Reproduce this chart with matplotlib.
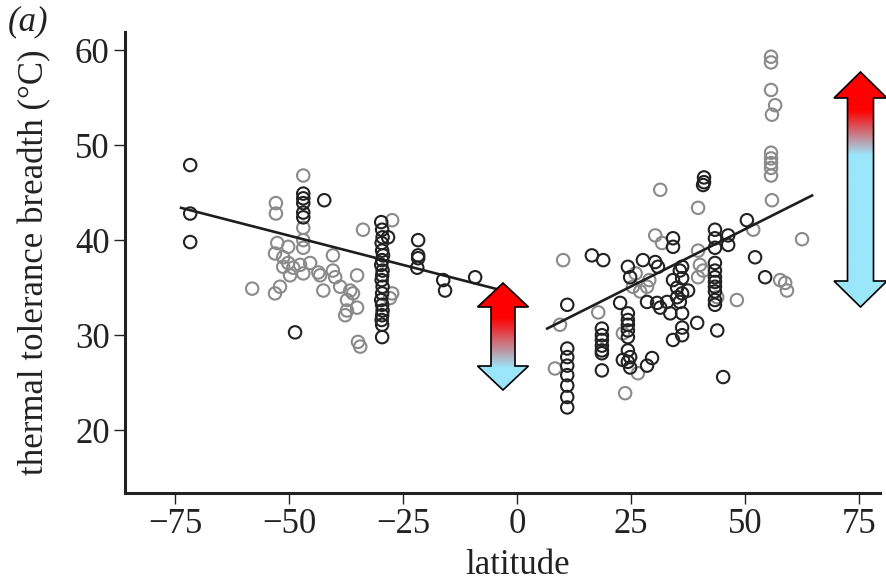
import numpy as np
import matplotlib
matplotlib.use("Agg")
import matplotlib.pyplot as plt
from matplotlib.colors import LinearSegmentedColormap
from matplotlib.patches import Polygon

plt.rcParams["font.family"] = ["Liberation Serif", "DejaVu Serif"]

# --- southern hemisphere ---
south_dark_lat = [-71.7, -71.7, -71.7, -46.9, -46.9, -46.9, -46.9, -46.9, -42.3, -48.7,
                  -29.8, -29.6, -29.5, -29.7, -29.6, -29.4, -29.6, -29.8, -29.5, -29.6,
                  -29.7, -29.5, -29.6, -29.8, -29.6, -29.5, -29.6, -29.7, -29.6, -29.6,
                  -28.3, -21.7, -21.7, -21.7, -21.9, -16.2, -15.8, -9.2]
south_dark_ttb = [47.9, 42.8, 39.8, 44.9, 44.4, 43.9, 42.9, 42.4, 44.2, 30.3,
                  41.9, 41.1, 40.3, 39.7, 38.9, 38.4, 37.9, 37.4, 36.8, 36.3,
                  35.8, 35.1, 34.4, 33.7, 33.2, 32.6, 32.1, 31.6, 31.1, 29.8,
                  40.3, 40.0, 38.4, 38.1, 37.1, 35.8, 34.7, 36.1]

south_gray_lat = [-46.9, -52.9, -52.9, -46.9, -46.9, -46.9, -52.6, -50.2, -53.1, -51.3,
                  -50.2, -51.3, -49.1, -47.6, -46.9, -45.4, -43.6, -43.2, -40.4, -40.4,
                  -39.9, -38.8, -36.6, -36.0, -37.3, -35.1, -37.3, -37.7, -35.1, -42.5,
                  -52.0, -53.1, -58.1, -49.8, -33.8, -27.4, -27.4, -27.9, -34.9, -34.4]
south_gray_ttb = [46.8, 43.9, 42.8, 41.3, 40.0, 39.2, 39.7, 39.3, 38.6, 38.2,
                  37.6, 37.2, 37.1, 37.4, 36.5, 37.6, 36.6, 36.3, 38.4, 36.8,
                  36.1, 35.1, 34.7, 34.4, 33.7, 32.9, 32.6, 32.1, 36.3, 34.7,
                  35.1, 34.4, 34.9, 36.3, 41.1, 42.1, 34.4, 33.9, 29.3, 28.8]

# --- northern hemisphere ---
north_dark_lat = [11.0, 11.0, 11.0, 11.0, 11.0, 11.0, 11.0, 11.0, 16.4, 18.9,
                  18.6, 18.6, 18.6, 18.6, 18.6, 18.6, 18.6, 22.6,
                  24.3, 24.3, 24.3, 24.3, 24.3, 24.3, 24.8, 24.3, 24.8, 23.2,
                  24.3, 24.8, 28.5, 29.6, 27.6, 30.3, 30.9, 28.5, 30.7,
                  35.7, 34.2, 35.1, 36.2, 35.7, 35.1, 32.9, 31.4, 33.6, 36.2,
                  36.2, 36.2, 37.5, 36.2, 36.2, 34.2, 39.5, 43.9, 34.2, 34.2,
                  43.4, 43.4, 43.4, 43.4, 43.4, 43.4, 43.4, 43.4, 43.4, 43.4, 43.4,
                  46.3, 46.3, 41.0, 41.0, 40.8, 50.4, 52.2, 54.4, 45.2]
north_dark_ttb = [33.2, 28.6, 27.7, 26.8, 25.8, 24.7, 23.5, 22.4, 38.4, 37.9,
                  30.7, 30.0, 29.5, 28.9, 28.4, 28.1, 26.3, 33.4,
                  32.3, 31.6, 31.1, 30.5, 29.8, 28.4, 27.7, 27.2, 26.6, 27.4,
                  37.2, 36.1, 26.8, 27.6, 37.9, 37.7, 37.2, 33.5, 33.4,
                  36.8, 35.8, 35.0, 34.4, 33.5, 34.0, 33.5, 32.9, 32.3, 32.3,
                  37.2, 36.0, 34.7, 30.8, 30.0, 29.5, 31.3, 30.5, 40.2, 39.3,
                  41.1, 40.2, 39.2, 37.6, 36.8, 36.1, 35.6, 35.1, 34.6, 33.7, 33.2,
                  40.5, 39.5, 46.6, 46.1, 45.8, 42.1, 38.2, 36.1, 25.6]

north_gray_lat = [8.3, 9.4, 10.1, 17.8, 23.7, 26.5, 23.2, 25.4, 27.0, 28.5,
                  26.0, 29.0, 30.3, 31.8, 31.4, 39.7, 55.9, 51.8, 62.5, 57.7,
                  58.8, 59.2, 48.2, 39.7, 40.1, 40.8, 39.7, 43.9,
                  55.7, 55.7, 55.7, 56.6, 55.9, 55.7, 55.7, 55.7, 55.7, 55.7]
north_gray_ttb = [26.5, 31.1, 37.9, 32.4, 23.9, 26.0, 30.2, 35.1, 34.6, 35.1,
                  36.5, 35.8, 40.5, 39.7, 45.3, 43.4, 44.2, 41.1, 40.1, 35.8,
                  35.5, 34.7, 33.7, 38.9, 37.4, 36.8, 36.1, 34.0,
                  59.3, 58.7, 55.8, 54.2, 53.2, 49.2, 48.6, 48.1, 47.6, 46.8]

# fitted lines (end points)
fit_south_lat = [-73.7, -4.0]
fit_south_ttb = [43.4, 34.8]
fit_north_lat = [6.6, 64.7]
fit_north_ttb = [30.7, 44.7]

x_ticks = [-75, -50, -25, 0, 25, 50, 75]
y_ticks = [20, 30, 40, 50, 60]

DARK = "#222222"
GRAY = "#8a8a8a"
RED = "#ff0000"
CYAN = "#9be6fa"
FS = 25

W, H = 887, 585
fig = plt.figure(figsize=(W / 100, H / 100), dpi=100)
ax = fig.add_axes([125 / W, 1 - 493 / H, (880 - 125) / W, (493 - 32) / H])

for lat, ttb, col in [(south_gray_lat, south_gray_ttb, GRAY), (north_gray_lat, north_gray_ttb, GRAY),
                      (south_dark_lat, south_dark_ttb, DARK), (north_dark_lat, north_dark_ttb, DARK)]:
    ax.scatter(lat, ttb, s=80, facecolors="none", edgecolors=col, linewidths=1.5, zorder=2)

ax.plot(fit_south_lat, fit_south_ttb, color="#1e1e1e", lw=1.9, zorder=3)
ax.plot(fit_north_lat, fit_north_ttb, color="#1e1e1e", lw=1.9, zorder=3)

ax.set_xlim(-86, 79.6)
ax.set_ylim(13.4, 61.9)
ax.set_xticks(x_ticks)
ax.set_xticklabels([f"\u2212{abs(v)}" if v < 0 else str(v) for v in x_ticks])
ax.set_yticks(y_ticks)
for side in ["top", "right"]:
    ax.spines[side].set_visible(False)
for side in ["left", "bottom"]:
    ax.spines[side].set_linewidth(2.2)
    ax.spines[side].set_color("#222222")
ax.tick_params(length=8, width=1.0, pad=3, labelsize=FS, colors="#222222")
ax.set_xlabel("latitude", fontsize=FS, color="#222222")
ax.set_ylabel("thermal tolerance breadth (\u00b0C)", fontsize=FS, color="#222222")
ax.xaxis.set_label_coords(0.52, -0.122)
ax.yaxis.set_label_coords(-0.098, 0.5)
fig.text(8 / W, 1 - 22 / H, "(a)", fontsize=FS, style="italic", va="center", ha="left", color="#222222")

# overlay in pixel coordinates for the gradient arrows
ov = fig.add_axes([0, 0, 1, 1])
ov.set_xlim(0, W)
ov.set_ylim(H, 0)
ov.axis("off")


def gradient_arrow(cx, y_top, y_bot, head_half, shaft_half, head_len, red_end, cyan_start):
    pts = [(cx, y_top), (cx + head_half, y_top + head_len), (cx + shaft_half, y_top + head_len),
           (cx + shaft_half, y_bot - head_len), (cx + head_half, y_bot - head_len), (cx, y_bot),
           (cx - head_half, y_bot - head_len), (cx - shaft_half, y_bot - head_len),
           (cx - shaft_half, y_top + head_len), (cx - head_half, y_top + head_len)]
    poly = Polygon(pts, closed=True, facecolor="none", edgecolor="black", lw=1.2, zorder=6)
    ov.add_patch(poly)
    span = y_bot - y_top
    cmap = LinearSegmentedColormap.from_list(
        "rc", [(0, RED), ((red_end - y_top) / span, RED),
               ((cyan_start - y_top) / span, CYAN), (1, CYAN)])
    grad = np.linspace(0, 1, 256).reshape(-1, 1)
    im = ov.imshow(grad, cmap=cmap, aspect="auto", origin="upper",
                   extent=(cx - head_half, cx + head_half, y_bot, y_top), zorder=5)
    im.set_clip_path(poly)


gradient_arrow(503, 283, 390, 25.5, 12, 24, 318, 368)
gradient_arrow(860.5, 72, 307, 26.5, 13, 26, 110, 155)
ov.set_xlim(0, W)
ov.set_ylim(H, 0)

fig.savefig("out.png", dpi=100)
